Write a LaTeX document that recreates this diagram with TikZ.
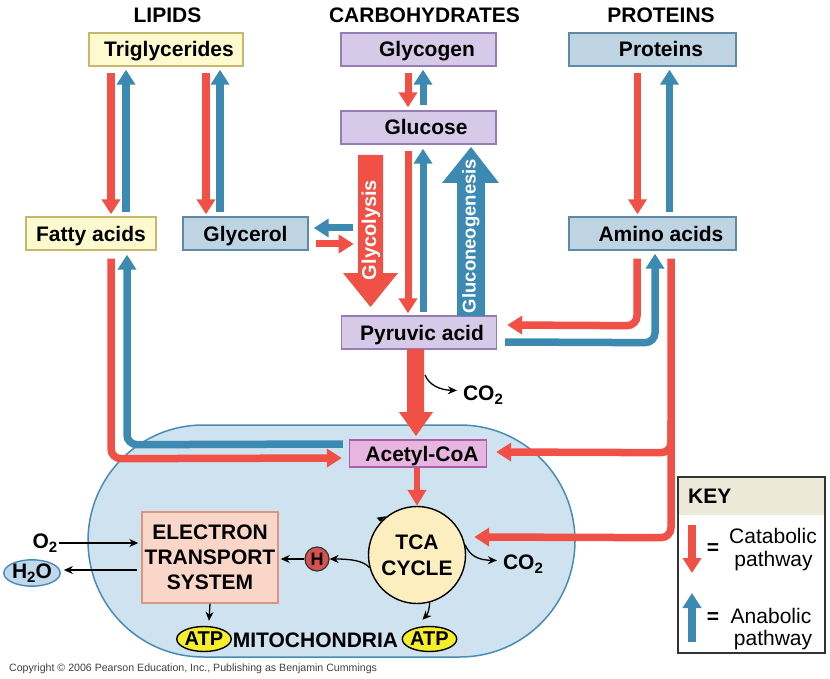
\documentclass[tikz,border=0pt]{standalone}
\usepackage{fontspec}
\setmainfont{Liberation Sans}
\usetikzlibrary{arrows.meta,shapes.geometric,calc}
\definecolor{cred}{RGB}{240,80,70}
\definecolor{cblue}{RGB}{60,138,178}
\definecolor{yfill}{RGB}{253,250,208}
\definecolor{ydraw}{RGB}{200,184,110}
\definecolor{pfill}{RGB}{215,201,232}
\definecolor{pdraw}{RGB}{148,124,182}
\definecolor{bfill}{RGB}{190,212,226}
\definecolor{bdraw}{RGB}{95,138,165}
\definecolor{afill}{RGB}{230,182,224}
\definecolor{adraw}{RGB}{175,95,165}
\definecolor{mfill}{RGB}{206,226,240}
\definecolor{mdraw}{RGB}{72,140,182}
\definecolor{tcafill}{RGB}{253,238,192}
\definecolor{etsfill}{RGB}{250,214,200}
\definecolor{etsdraw}{RGB}{218,150,128}
\definecolor{hfill}{RGB}{214,82,76}
\definecolor{atpfill}{RGB}{246,238,40}
\definecolor{h2ofill}{RGB}{192,216,236}
\definecolor{keyhead}{RGB}{236,233,216}
\newcommand{\subtwo}{\raisebox{-4pt}{\fontsize{15}{15}\selectfont 2}}
\tikzset{
  box/.style={draw, line width=1.4pt, minimum height=33pt, inner sep=0pt,
    text height=15pt, text depth=0pt},
  ybox/.style={box, fill=yfill, draw=ydraw},
  pbox/.style={box, fill=pfill, draw=pdraw},
  bbox/.style={box, fill=bfill, draw=bdraw},
  redline/.style={draw=cred, line width=7.5pt, rounded corners=10pt},
  blueline/.style={draw=cblue, line width=7.5pt, rounded corners=10pt},
  tipA/.style={-{Triangle[width=18pt,length=15pt]}},
  thinarrow/.style={draw=black, line width=1.3pt, -{Stealth[length=9pt,width=8pt]}},
  plain/.style={inner sep=0pt},
  hdr/.style={anchor=base, inner sep=0pt},
}
\begin{document}
\begin{tikzpicture}[x=1pt,y=-1pt,font=\bfseries\fontsize{21}{25}\selectfont]
\useasboundingbox (0,0) rectangle (830,679);

% mitochondria
\fill[mfill] (203,425) -- (460,425)
  .. controls (523.5,425) and (575,477) .. (575,541)
  .. controls (575,605) and (523.5,657) .. (460,657)
  -- (203,657)
  .. controls (139.5,657) and (88,605) .. (88,541)
  .. controls (88,477) and (139.5,425) .. (203,425) -- cycle;
\draw[mdraw, line width=1.5pt] (203,425) -- (460,425)
  .. controls (523.5,425) and (575,477) .. (575,541)
  .. controls (575,605) and (523.5,657) .. (460,657)
  -- (203,657)
  .. controls (139.5,657) and (88,605) .. (88,541)
  .. controls (88,477) and (139.5,425) .. (203,425) -- cycle;

% headers
\node[hdr] (hlip) at (167.5,23) {LIPIDS};
\node[hdr] (hcarb) at (424.5,23) {CARBOHYDRATES};
\node[hdr] (hprot) at (661,23) {PROTEINS};

% boxes
\node[ybox, minimum width=154pt] (tri) at (166,49.5) {\hspace*{6pt}Triglycerides};
\node[pbox, minimum width=155pt] (glyg) at (418.5,49.5) {\hspace*{17pt}Glycogen};
\node[bbox, minimum width=167pt] (prot) at (652.5,49.5) {\hspace*{17pt}Proteins};
\node[pbox, minimum width=155pt] (gluc) at (418.5,127.5) {\hspace*{15pt}Glucose};
\node[ybox, minimum width=130pt] (fatty) at (91,233.5) {Fatty acids};
\node[bbox, minimum width=125pt] (glyc) at (245.5,233.5) {Glycerol};
\node[bbox, minimum width=167pt] (amino) at (652.5,233.5) {\hspace*{17pt}Amino acids};
\node[pbox, minimum width=155pt] (pyr) at (419,332.5) {\hspace*{6pt}Pyruvic acid};
\node[box, fill=afill, draw=adraw, minimum width=137pt, minimum height=27pt] (acet) at (418,453.5) {\hspace*{8pt}Acetyl-CoA};

% lipid arrows
\draw[redline, tipA] ($(tri.south)+(-55,6)$) -- ($(fatty.north)+(20,-2)$);
\draw[blueline, tipA] ($(fatty.north)+(35,-4)$) -- ($(tri.south)+(-40,3)$);
\draw[redline, tipA] ($(tri.south)+(40,6)$) -- ($(glyc.north)+(-39.5,-2)$);
\draw[blueline, tipA] ($(glyc.north)+(-25.5,-4)$) -- ($(tri.south)+(54,3)$);

% glycogen / glucose
\draw[redline, line width=7pt, tipA] ($(glyg.south)+(-10.5,6)$) -- ($(gluc.north)+(-10.5,-3)$);
\draw[blueline, line width=7pt, tipA] ($(gluc.north)+(4.5,-5)$) -- ($(glyg.south)+(4.5,3)$);
\draw[redline, line width=7pt, tipA] ($(gluc.south)+(-10.5,6)$) -- ($(pyr.north)+(-11,-2)$);
\draw[blueline, line width=7pt, tipA] ($(pyr.north)+(4,-3)$) -- ($(gluc.south)+(4.5,4)$);

% glycolysis / gluconeogenesis big arrows
\fill[cred] (358,155) -- (383,155) -- (383,273) -- (398,273) -- (370.5,307)
  -- (343,273) -- (358,273) -- cycle;
\node[rotate=90, text=white, inner sep=0pt, font=\bfseries\fontsize{20}{20}\selectfont] (glyl) at (371,230) {Glycolysis};
\fill[cblue] (457,316) -- (457,183) -- (442,183) -- (471,147) -- (499,183)
  -- (485,183) -- (485,316) -- cycle;
\node[rotate=90, text=white, inner sep=0pt, font=\bfseries\fontsize{18.5}{18.5}\selectfont] (glun) at (471,236) {Gluconeogenesis};

% glycerol small arrows
\draw[blueline, line width=7pt, tipA] ($(glyc.east)+(44,-5.5)$) -- ($(glyc.east)+(5,-5.5)$);
\draw[redline, line width=7pt, tipA] ($(glyc.east)+(7,10.5)$) -- ($(glyc.east)+(45,10.5)$);

% proteins / amino acids
\draw[redline, tipA] ($(prot.south)+(-15,6)$) -- ($(amino.north)+(-15,-2)$);
\draw[blueline, tipA] ($(amino.north)+(17,-4)$) -- ($(prot.south)+(17,3)$);

% amino acids <-> pyruvic acid
\draw[redline, tipA] ($(amino.south)+(-15.5,8)$) -- ($(amino.south)+(-15.5,75)$) -- ($(pyr.east)+(10,-7.5)$);
\draw[blueline, tipA] ($(pyr.east)+(8,9.5)$) -- ($(amino.south)+(2.5,92)$) -- ($(amino.south)+(2.5,3)$);

% amino acids -> acetyl-CoA and TCA
\node[circle, draw=black, fill=tcafill, line width=1.4pt, minimum size=97pt, inner sep=0pt, align=center,
  font=\bfseries\fontsize{21}{26}\selectfont] (tca) at (417,555) {TCA\\CYCLE};
\draw[redline, tipA] ($(amino.south)+(18.5,8)$) -- ($(amino.south)+(18.5,287)$) -- ($(tca.east)+(8,-18)$);
\draw[redline, tipA] ($(amino.south)+(18.5,170)$) -- ($(amino.south)+(18.5,202)$) -- ($(acet.east)+(9,-1.5)$);

% fatty acids <-> acetyl-CoA
\draw[redline, tipA] ($(fatty.south)+(20,8)$) -- ($(fatty.south)+(20,208)$) -- ($(acet.west)+(-7,4.5)$);
\draw[blueline, tipA] ($(acet.west)+(-6,-9.5)$) -- ($(fatty.south)+(36,194)$) -- ($(fatty.south)+(36,4)$);

% pyruvic -> acetyl-CoA big arrow
\fill[cred] (407,349) -- (424,349) -- (424,412) -- (433,412) -- (416,436)
  -- (399,412) -- (407,412) -- cycle;
\node[plain, text height=15pt, text depth=0pt] (co2a) at (483,392.5) {CO\subtwo};
\draw[thinarrow] (425,375) .. controls (429,385) and (440,390) .. ($(co2a.west)+(-6,-2)$);

% acetyl -> TCA
\draw[redline, line width=6pt, -{Triangle[width=18pt,length=16pt]}] (tca.north |- acet.south) -- (tca.north);

% ETS
\node[draw=etsdraw, fill=etsfill, line width=1.4pt, minimum width=136pt, minimum height=91pt,
  inner sep=0pt, align=center, font=\bfseries\fontsize{21}{25}\selectfont] (ets) at (210,557.5)
  {ELECTRON\\TRANSPORT\\SYSTEM};
\node[circle, draw=black!80, fill=hfill, line width=1.2pt, minimum size=24pt, inner sep=0pt,
  font=\bfseries\fontsize{18}{18}\selectfont] (h) at (317,559) {H};
\node[ellipse, draw=black, fill=atpfill, line width=1.4pt, minimum width=48pt, minimum height=25pt,
  inner sep=0pt, font=\bfseries\fontsize{20}{20}\selectfont] (atp1) at (204,639) {ATP};
\node[ellipse, draw=black, fill=atpfill, line width=1.4pt, minimum width=48pt, minimum height=25pt,
  inner sep=0pt, font=\bfseries\fontsize{20}{20}\selectfont] (atp2) at (429.5,639) {ATP};
\node[hdr] (mito) at (315.5,647) {MITOCHONDRIA};
\node[ellipse, draw=mdraw, fill=h2ofill, line width=1.4pt, minimum width=56pt, minimum height=25pt,
  inner sep=0pt] (h2o) at (32,573) {H\subtwo O};
\node[plain, text height=15pt, text depth=0pt] (o2) at (45,541) {O\subtwo};
\node[plain, text height=15pt, text depth=0pt] (co2b) at (523,561.5) {CO\subtwo};

% thin arrows
\draw[thinarrow] ($(o2.east)+(1,2)$) -- ($(ets.west)+(-3,-14.5)$);
\draw[thinarrow] ($(ets.west)+(-4,12.5)$) -- ($(h2o.east)+(3,-3)$);
\draw[thinarrow] (ets.south) -- ($(atp1.north)+(5,-5)$);
\draw[thinarrow] (tca.195) .. controls (364,561) and (352,559) .. (h.east);
\draw[thinarrow] (h.west) -- ($(ets.east)+(2,1.5)$);
\draw[thinarrow] (tca.-75) .. controls (429,612) and (427,615) .. ($(atp2.north)+(-7,-6)$);
\draw[thinarrow] (tca.12) .. controls (470,556) and (478,560) .. ($(co2b.west)+(-6,-1)$);
\fill[black] ($(tca.135)+(4,-4)$) -- ++(-9.5,1.5) -- ++(3.5,4) -- cycle;

% key
\fill[keyhead] (678,477) rectangle (825,515);
\draw[black!80, line width=1.4pt] (678,477) rectangle (825,653);
\node[hdr, anchor=base west] (keyt) at (688,503) {KEY};
\coordinate (kr1) at (692,525);
\coordinate (kr2) at (692,573);
\coordinate (kb1) at (692,642);
\coordinate (kb2) at (692,593);
\draw[draw=cred, line width=8pt, tipA] (kr1) -- (kr2);
\draw[draw=cblue, line width=8pt, tipA] (kb1) -- (kb2);
\node[plain] (eq1) at (713,549) {=};
\node[plain] (eq2) at (713,618) {=};
\node[hdr, font=\fontsize{21}{21}\selectfont] (cat1) at (773,543) {Catabolic};
\node[hdr, font=\fontsize{21}{21}\selectfont] (cat2) at (773.5,566) {pathway};
\node[hdr, font=\fontsize{21}{21}\selectfont] (ana1) at (771,623) {Anabolic};
\node[hdr, font=\fontsize{21}{21}\selectfont] (ana2) at (773,645) {pathway};

% copyright
\node[hdr, anchor=base west, text=black!75, font=\fontsize{10.6}{11}\selectfont] (copy) at (9,671)
  {Copyright © 2006 Pearson Education, Inc., Publishing as Benjamin Cummings};
\end{tikzpicture}
\end{document}
